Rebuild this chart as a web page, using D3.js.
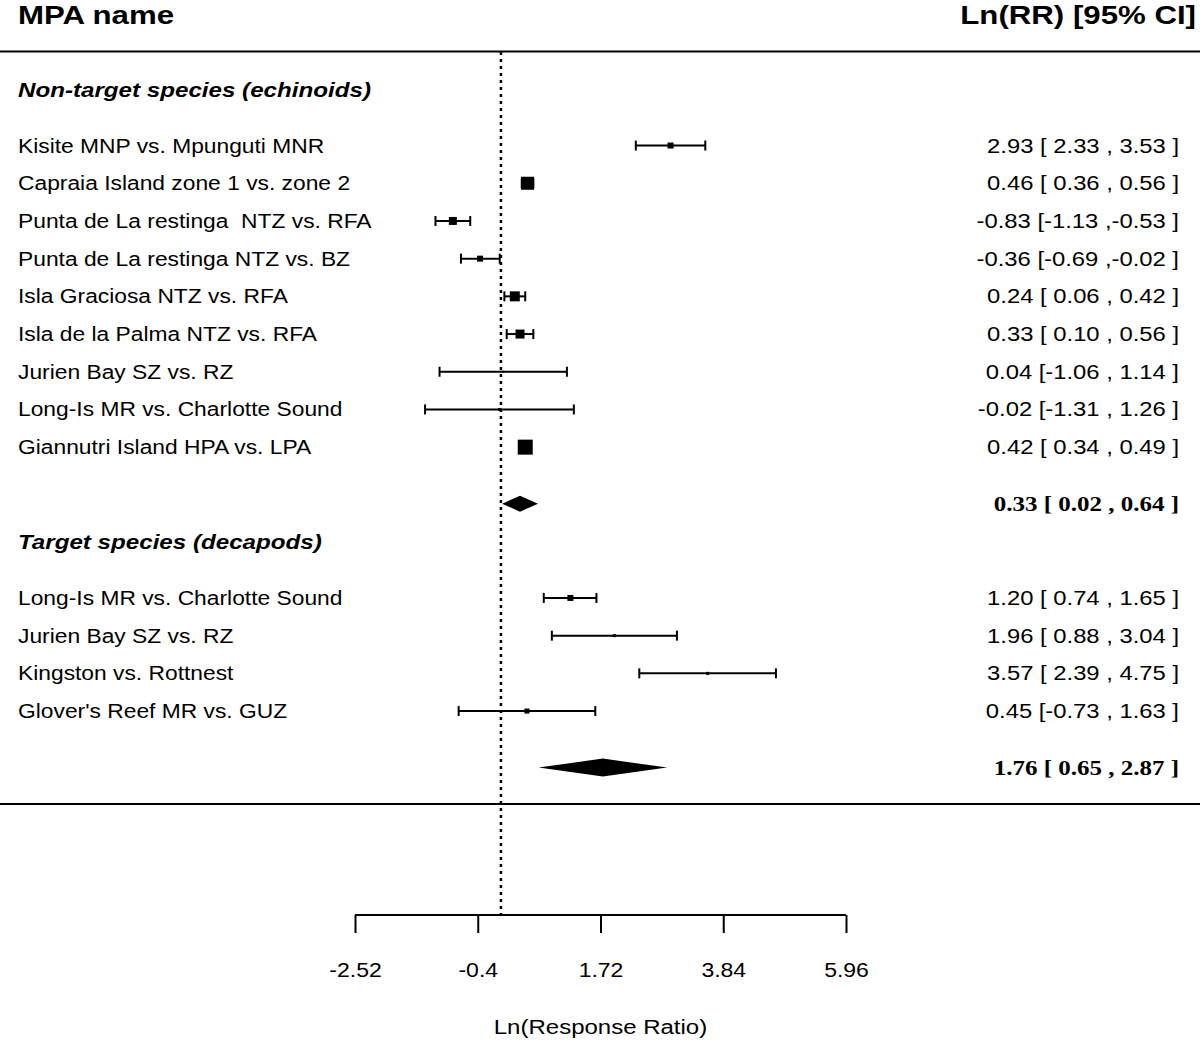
<!DOCTYPE html>
<html><head><meta charset="utf-8">
<script src="https://cdn.jsdelivr.net/npm/d3@7"></script>
<style>body{margin:0;background:#fff}svg{display:block}text{white-space:pre}</style>
</head><body><svg id="c" width="1200" height="1043"></svg>
<script>
// ---- data ----
const groupTitles = ["Non-target species (echinoids)", "Target species (decapods)"];
const echLabels = ["Kisite MNP vs. Mpunguti MNR","Capraia Island zone 1 vs. zone 2","Punta de La restinga  NTZ vs. RFA","Punta de La restinga NTZ vs. BZ","Isla Graciosa NTZ vs. RFA","Isla de la Palma NTZ vs. RFA","Jurien Bay SZ vs. RZ","Long-Is MR vs. Charlotte Sound","Giannutri Island HPA vs. LPA"];
const echEst = [2.93, 0.46, -0.83, -0.36, 0.24, 0.33, 0.04, -0.02, 0.42];
const echLo  = [2.33, 0.36, -1.13, -0.69, 0.06, 0.10, -1.06, -1.31, 0.34];
const echHi  = [3.53, 0.56, -0.53, -0.02, 0.42, 0.56, 1.14, 1.26, 0.49];
const echBox = [6, 13, 8, 6, 10, 9, 2, 3, 15];   // relative weights (box size)
const decLabels = ["Long-Is MR vs. Charlotte Sound","Jurien Bay SZ vs. RZ","Kingston vs. Rottnest","Glover's Reef MR vs. GUZ"];
const decEst = [1.20, 1.96, 3.57, 0.45];
const decLo  = [0.74, 0.88, 2.39, -0.73];
const decHi  = [1.65, 3.04, 4.75, 1.63];
const decBox = [6, 3, 3, 5];
const sumEst = [0.33, 1.76];
const sumLo  = [0.02, 0.65];
const sumHi  = [0.64, 2.87];
const tickVals = [-2.52, -0.4, 1.72, 3.84, 5.96];
const tickLabels = ["-2.52", "-0.4", "1.72", "3.84", "5.96"];

// ---- layout ----
const svg = d3.select("#c");
const x = d3.scaleLinear().domain([-2.52, 5.96]).range([355, 846]);
const y = d3.scaleLinear().domain([0, 18]).range([89, 767.6]); // row index -> y
const sans = "Liberation Sans, Arial, sans-serif";
const serif = "Liberation Serif, Times New Roman, serif";
const f2 = v => (v < 0 ? "-" : "") + Math.abs(v).toFixed(2);
const fmtCI = (e, l, h) => {
  const pad = s => (s.startsWith("-") ? s : " " + s);
  return `${f2(e)} [${pad(f2(l))} ,${pad(f2(h))} ]`;
};
// horizontally stretch text (reference font is wider than available fonts)
function stretch(sel, k) {
  sel.each(function () {
    const w = this.getComputedTextLength();
    d3.select(this).attr("textLength", w * k).attr("lengthAdjust", "spacingAndGlyphs");
  });
  return sel;
}

// headers
stretch(svg.append("text").attr("x", 18).attr("y", 24).attr("font-family", sans).attr("font-size", 26).attr("font-weight", "bold").text("MPA name"), 1.2);
stretch(svg.append("text").attr("x", 1196).attr("y", 24).attr("text-anchor", "end").attr("font-family", sans).attr("font-size", 26).attr("font-weight", "bold").text("Ln(RR) [95% CI]"), 1.2);
svg.append("line").attr("x1", 0).attr("x2", 1200).attr("y1", 51.5).attr("y2", 51.5).attr("stroke", "#000").attr("stroke-width", 2);
svg.append("line").attr("x1", 0).attr("x2", 1200).attr("y1", 804).attr("y2", 804).attr("stroke", "#000").attr("stroke-width", 2);

// reference dotted line at 0
svg.append("line").attr("x1", x(0)).attr("x2", x(0)).attr("y1", 52).attr("y2", 915)
  .attr("stroke", "#000").attr("stroke-width", 2.5).attr("stroke-dasharray", "3,4");

// rows
const rows = [];
echLabels.forEach((l, i) => rows.push({label: l, est: echEst[i], lo: echLo[i], hi: echHi[i], box: echBox[i], idx: 1.5 + i}));
decLabels.forEach((l, i) => rows.push({label: l, est: decEst[i], lo: decLo[i], hi: decHi[i], box: decBox[i], idx: 13.5 + i}));

// group titles
[0, 12].forEach((idx, g) => {
  stretch(svg.append("text").attr("x", 18).attr("y", y(idx) + 8).attr("font-family", sans).attr("font-size", 21)
    .attr("font-weight", "bold").attr("font-style", "italic").text(groupTitles[g]), 1.15);
});

const rg = svg.append("g");
rows.forEach(r => {
  const cy = y(r.idx);
  const g = rg.append("g");
  stretch(g.append("text").attr("x", 18).attr("y", cy + 7).attr("font-family", sans).attr("font-size", 20).text(r.label), 1.14);
  stretch(g.append("text").attr("x", 1179).attr("y", cy + 7).attr("text-anchor", "end").attr("font-family", sans).attr("font-size", 20).text(fmtCI(r.est, r.lo, r.hi)), 1.19);
  g.append("line").attr("x1", x(r.lo)).attr("x2", x(r.hi)).attr("y1", cy).attr("y2", cy).attr("stroke", "#000").attr("stroke-width", 2);
  [r.lo, r.hi].forEach(v => g.append("line").attr("x1", x(v)).attr("x2", x(v)).attr("y1", cy - 5).attr("y2", cy + 5).attr("stroke", "#000").attr("stroke-width", 2));
  g.append("rect").attr("x", x(r.est) - r.box / 2).attr("y", cy - r.box / 2).attr("width", r.box).attr("height", r.box).attr("fill", "#000");
});

// summaries
[11, 18].forEach((idx, i) => {
  const cy = y(idx);
  const h = i === 0 ? 8 : 9;
  const pts = [[x(sumLo[i]), cy], [x(sumEst[i]), cy - h], [x(sumHi[i]), cy], [x(sumEst[i]), cy + h]];
  svg.append("polygon").attr("points", pts.map(p => p.join(",")).join(" ")).attr("fill", "#000");
  stretch(svg.append("text").attr("x", 1179).attr("y", cy + 7).attr("text-anchor", "end").attr("font-family", serif)
    .attr("font-size", 21).attr("font-weight", "bold").text(fmtCI(sumEst[i], sumLo[i], sumHi[i])), 1.19);
});

// axis
const axis = d3.axisBottom(x).tickValues(tickVals).tickFormat((d, i) => tickLabels[i]).tickSize(18).tickSizeOuter(0).tickPadding(30);
const ag = svg.append("g").attr("transform", "translate(0,915)").call(axis);
ag.select(".domain").attr("stroke-width", 2).attr("d", `M${x(-2.52)},0H${x(5.96)}`);
ag.selectAll(".tick line").attr("stroke-width", 2);
stretch(ag.selectAll(".tick text").attr("font-family", sans).attr("font-size", 20).attr("fill", "#000"), 1.15);
stretch(svg.append("text").attr("x", x(1.72)).attr("y", 1034).attr("text-anchor", "middle").attr("font-family", sans).attr("font-size", 20).text("Ln(Response Ratio)"), 1.2);
</script></body></html>
